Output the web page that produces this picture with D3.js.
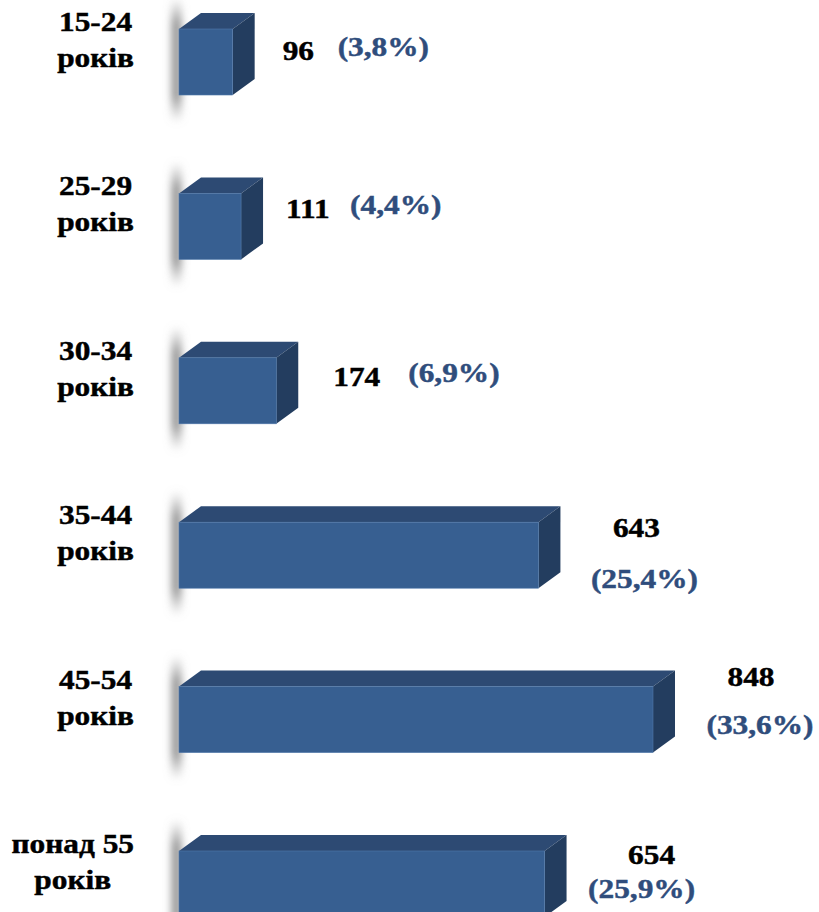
<!DOCTYPE html>
<html lang="uk">
<head>
  <meta charset="UTF-8">
  <script src="https://cdn.jsdelivr.net/npm/d3@7"></script>
  <title>Вікові групи</title>
  <style>
    body { margin: 0; background: #fff; }
    text { font-family: 'Liberation Serif', 'Times New Roman', serif; font-weight: bold; font-size: 27.5px; stroke-width: 0.45; }
    .cat, .val { fill: #000; stroke: #000; }
    .pct { fill: #2f4d7c; stroke: #2f4d7c; }
  </style>
</head>
<body>
<script>
  const categories = ['15-24 років', '25-29 років', '30-34 років', '35-44 років', '45-54 років', 'понад 55 років'];
  const catLines = [['15-24', 'років'], ['25-29', 'років'], ['30-34', 'років'], ['35-44', 'років'], ['45-54', 'років'], ['понад 55', 'років']];
  const values = [96, 111, 174, 643, 848, 654];
  const percents = [3.8, 4.4, 6.9, 25.4, 33.6, 25.9];

  // label placement per row (layout only): [value dx, value dy, pct dx, pct dy]
  const labelPos = [
    [28, 31, 83, 27],
    [23, 25, 87, 21],
    [35, 28, 110, 24],
    [76, 15, 84, 66],
    [76, -1, 85, 47],
    [85, 13, 75, 47]
  ];

  const width = 819, height = 912;
  const dx = 22, dy = 16, sx = 1.14;
  const fmtPct = p => '(' + d3.format('.1f')(p).replace('.', ',') + '%)';

  const x = d3.scaleLinear().domain([0, 848]).range([179, 653]);
  const y = d3.scaleBand().domain(categories).range([29, 917]).paddingInner(0.5985).paddingOuter(0);

  const svg = d3.select('body').append('svg').attr('width', width).attr('height', height);
  const defs = svg.append('defs');
  defs.append('filter').attr('id', 'blur').attr('x', '-200%').attr('width', '500%')
    .append('feGaussianBlur').attr('stdDeviation', 4);
  const grad = defs.append('linearGradient').attr('id', 'fade').attr('x1', 0).attr('x2', 0).attr('y1', 0).attr('y2', 1);
  grad.append('stop').attr('offset', '0%').attr('stop-color', '#999').attr('stop-opacity', 0.05);
  grad.append('stop').attr('offset', '20%').attr('stop-color', '#888').attr('stop-opacity', 1);
  grad.append('stop').attr('offset', '80%').attr('stop-color', '#888').attr('stop-opacity', 1);
  grad.append('stop').attr('offset', '100%').attr('stop-color', '#999').attr('stop-opacity', 0.05);

  const rows = svg.selectAll('g.row').data(categories).enter().append('g').attr('class', 'row');

  // shadow strip on the left of each bar
  rows.append('rect')
    .attr('x', x(0) - 7).attr('width', 9)
    .attr('y', d => y(d) - 30).attr('height', y.bandwidth() + 56)
    .attr('fill', 'url(#fade)').attr('filter', 'url(#blur)');

  // top face
  rows.append('polygon')
    .attr('points', (d, i) => {
      const t = y(d), x0 = x(0), x1 = x(values[i]);
      return [[x0, t], [x0 + dx, t - dy], [x1 + dx, t - dy], [x1, t]].join(' ');
    })
    .attr('fill', '#2d4a73');

  // right face
  rows.append('polygon')
    .attr('points', (d, i) => {
      const t = y(d), b = t + y.bandwidth(), x1 = x(values[i]);
      return [[x1, t], [x1 + dx, t - dy], [x1 + dx, b - dy], [x1, b]].join(' ');
    })
    .attr('fill', '#233d5f');

  // front face
  rows.append('rect')
    .attr('x', x(0)).attr('y', d => y(d))
    .attr('width', (d, i) => x(values[i]) - x(0)).attr('height', y.bandwidth())
    .attr('fill', '#375f91').attr('stroke', '#5079ab').attr('stroke-width', 0.6);

  const place = (sel, px, py) => sel.attr('transform', `translate(${px},${py}) scale(${sx},1)`);

  // category labels: block right-aligned, lines centred
  rows.each(function (d, i) {
    const g = d3.select(this);
    const t = y(d);
    const texts = catLines[i].map(s => g.append('text').attr('class', 'cat').attr('text-anchor', 'middle').text(s));
    const w = d3.max(texts, tx => tx.node().getComputedTextLength()) * sx;
    texts.forEach((tx, k) => place(tx, 134 - w / 2, t + 2 + k * 36));
  });

  // value + percent labels
  rows.each(function (d, i) {
    const g = d3.select(this);
    const t = y(d), end = x(values[i]) + dx;
    const [vx, vy, px, py] = labelPos[i];
    const small = values[i] < 300;
    place(g.append('text').attr('class', 'val').attr('text-anchor', small ? 'start' : 'middle')
      .text(values[i]), end + vx, t + vy);
    place(g.append('text').attr('class', 'pct').attr('text-anchor', small ? 'start' : 'middle')
      .text(fmtPct(percents[i])), end + px, t + py);
  });
</script>
</body>
</html>
